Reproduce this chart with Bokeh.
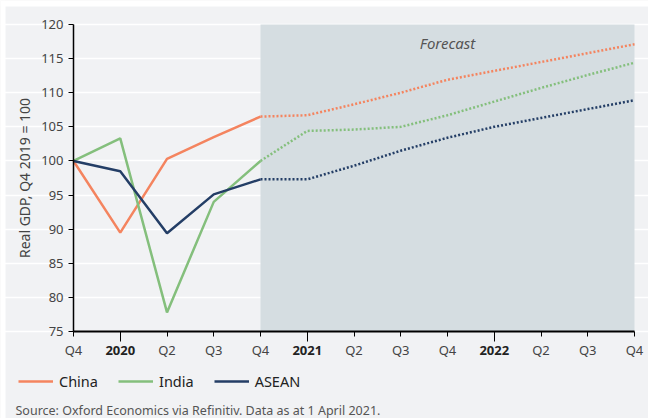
from bokeh.plotting import figure
from bokeh.models import (FixedTicker, Label, Legend, LegendItem, BoxAnnotation, Range1d,
                          LinearAxis)
from bokeh.embed import file_html
from bokeh.resources import INLINE

# ---- data ----
quarter_pos = [0, 2, 3, 4, 6, 7, 8, 10, 11, 12]
quarter_labels = ["Q4", "Q2", "Q3", "Q4", "Q2", "Q3", "Q4", "Q2", "Q3", "Q4"]
year_pos = [1, 5, 9]
year_labels = ["2020", "2021", "2022"]

x_all = list(range(13))
china = [100, 89.5, 100.3, 103.5, 106.5, 106.7, 108.3, 110.0, 111.9, 113.2, 114.5, 115.8, 117.1]
india = [100, 103.3, 77.8, 94.0, 100.0, 104.4, 104.6, 105.0, 106.7, 108.7, 110.7, 112.6, 114.4]
asean = [100, 98.5, 89.4, 95.1, 97.3, 97.3, 99.3, 101.5, 103.4, 105.0, 106.3, 107.6, 108.9]
last_actual = 4
forecast_start, forecast_end = 4, 12
y_ticks = list(range(75, 121, 5))
y_min, y_max = 75, 120
x_min, x_max = 0, 12

series = [("China", china, "#f4845f"), ("India", india, "#84bf7c"), ("ASEAN", asean, "#243e66")]
source_text = "Source: Oxford Economics via Refinitiv. Data as at 1 April 2021."

FONT = "Noto Sans"
BG = "#f1f2f4"
TXT = "#444444"

W, H = 648, 418
# pixel box of the data area inside the canvas
PL, PR, PT, PB = 73, 634, 24, 331
xs = (PR - PL) / (x_max - x_min)
ys = (PB - PT) / (y_max - y_min)
x0, x1 = x_min - PL / xs, x_max + (W - PR) / xs
y0, y1 = y_min - (H - PB) / ys, y_max + PT / ys

p = figure(width=W, height=H, output_backend="svg", toolbar_location=None,
           x_range=Range1d(x0, x1), y_range=Range1d(y0, y1),
           background_fill_color=BG, border_fill_color=BG,
           min_border_left=0, min_border_right=0, min_border_top=0, min_border_bottom=0)
p.outline_line_color = None

# white page strip at top and left of the card
p.add_layout(BoxAnnotation(bottom=y1 - 6 / ys, fill_color="white", fill_alpha=1,
                           line_color=None, level="underlay"))
p.add_layout(BoxAnnotation(right=x0 + 5 / xs, fill_color="white", fill_alpha=1,
                           line_color=None, level="underlay"))

# forecast shading
p.add_layout(BoxAnnotation(left=forecast_start, right=forecast_end, bottom=y_min, top=y_max,
                           fill_color="#d5dde1", fill_alpha=1, line_color=None, level="underlay"))

# grid
p.xgrid.grid_line_color = None
p.ygrid.grid_line_color = "white"
p.ygrid.grid_line_width = 1.5
p.ygrid.level = "underlay"
p.ygrid.ticker = FixedTicker(ticks=y_ticks)
p.ygrid.bounds = (x_min, x_max)

items = []
for name, vals, col in series:
    r = p.line(x_all[:last_actual + 1], vals[:last_actual + 1], line_color=col, line_width=2.5)
    p.line(x_all[last_actual:], vals[last_actual:], line_color=col, line_width=2.5,
           line_dash="2 2")
    items.append(LegendItem(label=name, renderers=[r]))

# y axis
ya = p.yaxis[0]
ya.fixed_location = x_min
ya.bounds = (y_min, y_max)
ya.ticker = FixedTicker(ticks=y_ticks)
ya.axis_line_color = "black"
ya.axis_line_width = 1.5
ya.major_tick_in = 0
ya.major_tick_out = 5
ya.minor_tick_line_color = None
ya.major_tick_line_color = "black"
ya.major_label_text_font = FONT
ya.major_label_text_font_size = "13px"
ya.major_label_text_color = TXT
ya.major_label_standoff = 5
ya.axis_label = "Real GDP, Q4 2019 = 100"
ya.axis_label_text_font = FONT
ya.axis_label_text_font_size = "14px"
ya.axis_label_text_font_style = "normal"
ya.axis_label_text_color = TXT
ya.axis_label_standoff = 4

# x axis 1: quarters
ax = p.xaxis[0]
ax.fixed_location = y_min
ax.bounds = (x_min, x_max)
ax.ticker = FixedTicker(ticks=quarter_pos, minor_ticks=[])
ax.major_label_overrides = {k: v for k, v in zip(quarter_pos, quarter_labels)}
ax.axis_line_color = "black"
ax.axis_line_width = 2
ax.major_tick_in = 0
ax.major_tick_out = 5
ax.minor_tick_line_color = None
ax.major_tick_line_color = "black"
ax.major_label_text_font = FONT
ax.major_label_text_font_size = "13px"
ax.major_label_text_color = TXT
ax.major_label_standoff = 4

# x axis 2: years, bold labels and longer ticks, on the same baseline
ax2 = LinearAxis(fixed_location=y_min, bounds=(x_min, x_max),
                 ticker=FixedTicker(ticks=year_pos, minor_ticks=[]),
                 major_label_overrides={k: v for k, v in zip(year_pos, year_labels)},
                 axis_line_color=None, major_tick_line_color="black", minor_tick_line_color=None,
                 major_tick_line_width=1, major_tick_in=0, major_tick_out=10,
                 major_label_text_font=FONT, major_label_text_font_size="13px",
                 major_label_text_font_style="bold", major_label_text_color="#222222",
                 major_label_standoff=4)
p.add_layout(ax2, "below")

p.add_layout(Label(x=8, y=y_max, y_offset=-18, text="Forecast", text_align="center",
                   text_baseline="middle", text_font=FONT, text_font_size="15px",
                   text_font_style="italic", text_color="#555555"))

legend = Legend(items=items, orientation="horizontal", location=(18, 27),
                label_text_font=FONT, label_text_font_size="14.5px", label_text_color="#222222",
                glyph_width=35, glyph_height=14, label_standoff=6, spacing=20,
                padding=0, margin=0, border_line_alpha=0, background_fill_alpha=0)
p.add_layout(legend, "center")

p.add_layout(Label(x=15, y=8, x_units="screen", y_units="screen", text=source_text,
                   text_align="left", text_baseline="middle", text_font=FONT,
                   text_font_size="12.5px", text_color="#555555"))

open("out.html", "w").write(file_html(p, INLINE))
